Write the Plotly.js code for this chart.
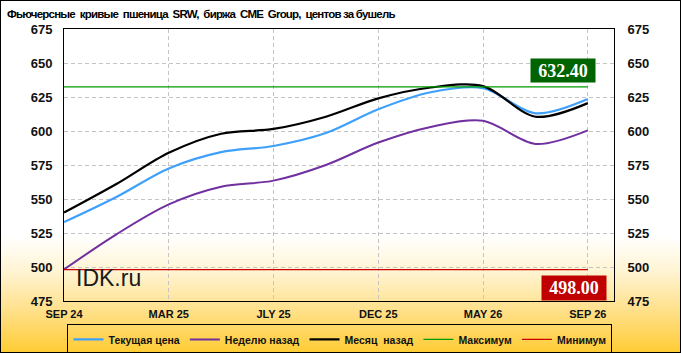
<!DOCTYPE html>
<html><head><meta charset="utf-8">
<script src="https://cdn.plot.ly/plotly-3.0.1.min.js"></script>
<style>
html,body{margin:0;padding:0;}
#wrap{position:relative;width:681px;height:353px;background:linear-gradient(to bottom,#ffffff 0%,#ffffff 67%,#fff4d2 77%,#ffe08a 88%,#ffcc33 100%);}
#chart{width:681px;height:353px;}
#frame{position:absolute;left:0;top:0;width:679px;height:351px;border:1px solid #000;pointer-events:none;}
#chart .gtitle{letter-spacing:-0.8px;}
</style></head><body>
<div id="wrap"><div id="chart"></div><div id="frame"></div></div>
<script>
// Contract months (SRW wheat futures curve)
const contracts = ['SEP 24','DEC 24','MAR 25','MAY 25','JLY 25','SEP 25','DEC 25','MAR 26','MAY 26','JLY 26','SEP 26'];
const currentPrice = [533, 551.5, 572.5, 584.5, 589, 598.5, 616, 628.5, 631.5, 613, 623.5];
const weekAgo      = [498.2, 524, 546, 559, 563.5, 575, 591.5, 603, 607.5, 590.5, 600.5];
const monthAgo     = [540, 561, 584, 598, 601.5, 610.5, 624, 632, 633, 610.5, 620.5];
const maxVal = 632.40;
const minVal = 498.00;
const shownTicks = ['SEP 24','MAR 25','JLY 25','DEC 25','MAY 26','SEP 26'];
const yTicks = [475, 500, 525, 550, 575, 600, 625, 650, 675];

const idx = contracts.map((c, i) => i);
const tickIdx = shownTicks.map(t => contracts.indexOf(t));
const lastIdx = contracts.length - 1;

const sp = {shape: 'spline', smoothing: 0.9};
const traces = [
  {x: idx, y: currentPrice, name: 'Текущая цена', mode: 'lines', line: Object.assign({color: '#3ea0fa', width: 2.2}, sp)},
  {x: idx, y: weekAgo, name: 'Неделю назад', mode: 'lines', line: Object.assign({color: '#7030a0', width: 2}, sp)},
  {x: idx, y: monthAgo, name: 'Месяц  назад', mode: 'lines', line: Object.assign({color: '#000000', width: 2.2}, sp)},
  {x: [0, lastIdx], y: [maxVal, maxVal], name: 'Максимум', mode: 'lines', yaxis: 'y2', line: {color: '#009a00', width: 1.3}},
  {x: [0, lastIdx], y: [minVal, minVal], name: 'Минимум', mode: 'lines', yaxis: 'y2', line: {color: '#cc0000', width: 1.3}}
];

const tickFont = {family: 'Liberation Sans, Arial, sans-serif', size: 13, color: '#111', weight: 'bold'};
const yCommon = {
  range: [475, 675], tickvals: yTicks, ticktext: yTicks.map(String),
  tickfont: tickFont, ticks: '', showline: true, linecolor: '#000', linewidth: 1,
  zeroline: false, fixedrange: true
};

const layout = {
  width: 681, height: 353,
  margin: {l: 63.5, r: 66.5, t: 28.5, b: 52, pad: 0, autoexpand: false},
  paper_bgcolor: 'rgba(0,0,0,0)', plot_bgcolor: 'rgba(0,0,0,0)',
  font: {family: 'Liberation Sans, Arial, sans-serif', color: '#111'},
  title: {
    text: 'Фьючерсные  кривые  пшеница  SRW,  биржа  CME  Group,  центов за бушель',
    font: {family: 'Liberation Sans, Arial, sans-serif', size: 11.5, color: '#000', weight: 'bold'},
    x: 7/681, xanchor: 'left', xref: 'container',
    y: 1 - 14/353, yanchor: 'middle', yref: 'container'
  },
  xaxis: {
    range: [0, lastIdx + 0.5], tickvals: tickIdx, ticktext: shownTicks,
    tickfont: {family: 'Liberation Sans, Arial, sans-serif', size: 11, color: '#111', weight: 'bold'},
    ticks: '', ticklabelstandoff: 3,
    showgrid: true, gridcolor: '#c4c4c4', griddash: '4px,3px', gridwidth: 1,
    showline: true, mirror: true, linecolor: '#000', linewidth: 1, zeroline: false, fixedrange: true
  },
  yaxis: Object.assign({}, yCommon, {
    side: 'left', showgrid: true, gridcolor: '#c4c4c4', griddash: '4px,3px', gridwidth: 1,
    mirror: true, ticklabelstandoff: 8
  }),
  yaxis2: Object.assign({}, yCommon, {
    side: 'right', overlaying: 'y', showgrid: false, ticklabelstandoff: 10
  }),
  showlegend: true,
  legend: {
    orientation: 'h', x: (67 - 63.5)/551, xanchor: 'left', y: (301 - 324)/272.5, yanchor: 'top',
    font: {family: 'Liberation Sans, Arial, sans-serif', size: 10.5, color: '#111', weight: 'bold'},
    bgcolor: 'rgba(0,0,0,0)', bordercolor: '#000', borderwidth: 1,
    itemwidth: 30, tracegroupgap: 0
  },
  annotations: [
    {x: 9.52, y: 644.2, xref: 'x', yref: 'y', text: maxVal.toFixed(2), showarrow: false,
     bgcolor: '#006400', width: 64, height: 23, borderpad: 0, xanchor: 'center', yanchor: 'middle',
     font: {family: 'Liberation Serif, Times New Roman, serif', size: 18, color: '#fff', weight: 'bold'}},
    {x: 9.73, y: 484.5, xref: 'x', yref: 'y', text: minVal.toFixed(2), showarrow: false,
     bgcolor: '#c00000', width: 64, height: 24, borderpad: 0, xanchor: 'center', yanchor: 'middle',
     font: {family: 'Liberation Serif, Times New Roman, serif', size: 18, color: '#fff', weight: 'bold'}},
    {x: (74 - 63.5)/551, y: (301 - 278)/272.5, xref: 'paper', yref: 'paper', text: 'IDK.ru', showarrow: false,
     xanchor: 'left', yanchor: 'middle',
     font: {family: 'Liberation Sans, Arial, sans-serif', size: 23, color: '#1a1a1a'}}
  ]
};

Plotly.newPlot('chart', traces, layout, {displayModeBar: false, staticPlot: true});
</script>
</body></html>
